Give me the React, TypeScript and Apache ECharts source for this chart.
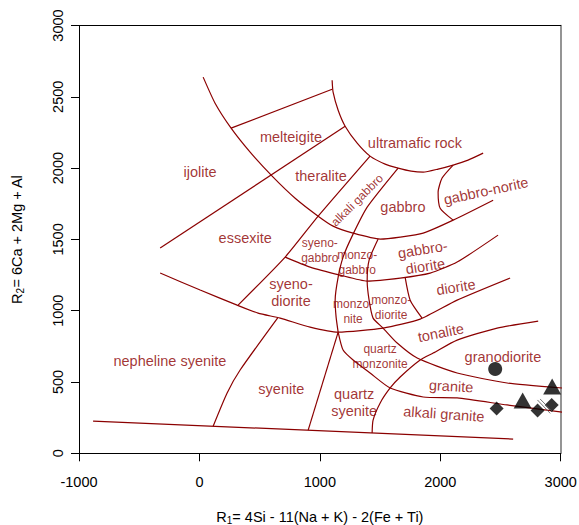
import React, { useEffect, useRef } from "react";
import * as echarts from "echarts";

// R1–R2 multicationic classification fields (R1 = 4Si - 11(Na+K) - 2(Fe+Ti), R2 = 6Ca + 2Mg + Al)

// Field boundaries as [R1, R2] vertices
const outerArc = [[31, 2638], [130, 2455], [263, 2280], [421, 2112], [612, 1937], [795, 1789], [986, 1663], [1110, 1593], [1276, 1544], [1501, 1502], [1667, 1516], [1858, 1544], [2107, 1635], [2439, 1775]];
const ultramaficArc = [[1102, 2616], [1110, 2532], [1152, 2406], [1210, 2294], [1310, 2175], [1417, 2084], [1542, 2028], [1650, 2000], [1758, 1979], [1858, 1972], [1982, 1993], [2107, 2021], [2231, 2056], [2356, 2105]];
const melteigiteTop = [[263, 2280], [1102, 2553]];
const essexiteTop = [[-326, 1439], [1210, 2294]];
const alkaliGabbroLeft = [[1417, 2084], [986, 1663], [712, 1376], [321, 1039]];
const alkaliGabbroRight = [[1650, 2000], [1393, 1726], [1268, 1523], [1193, 1376], [1152, 1236], [1127, 1074], [1135, 955], [1152, 850]];
const quartzSyeniteLeft = [[1152, 850], [903, 163]];
const syenoGabbroBottom = [[712, 1376], [919, 1306], [1168, 1250], [1393, 1208], [1667, 1229], [1916, 1264], [2140, 1341], [2480, 1530]];
const syenoDioriteBottom = [[-326, 1264], [6, 1145], [313, 1039], [487, 983], [670, 948], [919, 885], [1152, 850], [1525, 878], [1833, 941], [2140, 1074], [2580, 1229]];
const dioriteLeft = [[1708, 1236], [1750, 1074], [1849, 948]];
const gabbroNoriteLeft = [[2107, 2021], [2015, 1930], [1982, 1831], [1999, 1719], [2107, 1635]];
const monzodioriteLeft = [[1484, 1502], [1409, 1355], [1393, 1208], [1409, 1074], [1442, 948], [1525, 878], [1642, 773], [1808, 668], [2140, 563], [2555, 493], [3012, 458]];
const granodioriteTop = [[2813, 927], [2472, 878], [2140, 794], [1941, 703], [1833, 654], [1667, 535], [1584, 458], [1501, 353], [1442, 233], [1434, 142]];
const graniteBottom = [[1152, 850], [1193, 724], [1276, 654], [1417, 563], [1584, 458], [1858, 395], [2140, 388], [2555, 339], [3012, 289]];
const syeniteLeft = [[114, 190], [230, 423], [338, 584], [650, 950]];
const baseLine = [[-883, 226], [2605, 100]];

const boundaries = [
  outerArc, ultramaficArc, melteigiteTop, essexiteTop, alkaliGabbroLeft, alkaliGabbroRight,
  quartzSyeniteLeft, syenoGabbroBottom, syenoDioriteBottom, dioriteLeft, gabbroNoriteLeft,
  monzodioriteLeft, granodioriteTop, graniteBottom, syeniteLeft, baseLine,
];

// Field names and their anchor points
const regionLabels = [
  "melteigite", "ultramafic rock", "ijolite", "theralite", "alkali gabbro", "gabbro",
  "gabbro-norite", "essexite", "syeno-\ngabbro", "monzo-\ngabbro", "gabbro-\ndiorite",
  "syeno-\ndiorite", "monzo-\nnite", "monzo-\ndiorite", "diorite", "tonalite",
  "granodiorite", "quartz\nmonzonite", "granite", "alkali granite", "quartz\nsyenite",
  "syenite", "nepheline syenite",
];
const regionX = [760, 1790, 5, 1010, 1310, 1690, 2380, 380, 1000, 1310, 1865, 760, 1276, 1592, 2130, 2005, 2520, 1500, 2090, 2030, 1285, 680, -245];
const regionY = [2215, 2175, 1970, 1945, 1775, 1725, 1840, 1510, 1425, 1340, 1370, 1125, 997, 1025, 1165, 845, 675, 680, 470, 275, 355, 450, 645];

// Samples
const sampleCircle = [[2456, 591]];
const sampleTriangles = [[2929, 468], [2684, 370]];
const sampleDiamonds = [[2468, 314], [2808, 300], [2925, 339]];
const overlapMarkA = [[2807, 374], [2913, 280]];
const overlapMarkB = [[2829, 381], [2934, 290]];

const FONT = "'Liberation Sans', Arial, Helvetica, sans-serif";
const FIELD_RED = "#8b0000";

const smallLabels = new Set(["alkali gabbro", "syeno-\ngabbro", "monzo-\ngabbro", "monzo-\nnite", "monzo-\ndiorite", "quartz\nmonzonite"]);
const labelTilt: Record<string, number> = {
  "alkali gabbro": 45,
  "gabbro-norite": 12,
  "gabbro-\ndiorite": 9,
  "diorite": 9,
  "tonalite": 11,
  "granite": -3,
  "alkali granite": -4,
};

const plainNumber = (v: number) => String(v);

export default function App() {
  const ref = useRef<HTMLDivElement>(null);

  useEffect(() => {
    if (!ref.current) return;
    const chart = echarts.init(ref.current, undefined, { renderer: "svg" });

    const boundarySeries = boundaries.map((pts) => ({
      type: "line",
      data: pts,
      showSymbol: false,
      symbol: "none",
      smooth: pts.length > 2 ? 0.2 : false,
      lineStyle: { color: FIELD_RED, width: 1.2 },
      silent: true,
      z: 2,
    }));

    const labelData = regionLabels.map((name, i) => {
      const small = smallLabels.has(name);
      return {
        name,
        value: [regionX[i], regionY[i]],
        label: {
          rotate: labelTilt[name] ?? 0,
          fontSize: small ? 12 : 14.5,
          lineHeight: small ? 15 : 17,
        },
      };
    });

    // Axis titles: "R" with a lowered, smaller index digit
    const axisNameRich = {
      r: { fontSize: 14.5, fontFamily: FONT, color: "#000", lineHeight: 16 },
      s: { fontSize: 10, fontFamily: FONT, color: "#000", lineHeight: 11, verticalAlign: "bottom" },
    };

    const option = {
      animation: false,
      grid: { left: 79, right: 18.3, top: 25.5, bottom: 71.7, outerBoundsMode: "none" },
      xAxis: [
        {
          type: "value",
          min: -1000,
          max: 3000,
          interval: 1000,
          position: "bottom",
          axisLine: { show: true, onZero: false, lineStyle: { color: "#000", width: 1 } },
          axisTick: { show: true, inside: false, length: 8, lineStyle: { color: "#000" } },
          axisLabel: { fontSize: 14.5, color: "#000", margin: 21, fontFamily: FONT, formatter: plainNumber },
          splitLine: { show: false },
          name: "{r|R}{s|1}{r|= 4Si - 11(Na + K) - 2(Fe + Ti)}",
          nameLocation: "middle",
          nameGap: 56,
          nameTextStyle: { rich: axisNameRich },
        },
        {
          type: "value",
          min: -1000,
          max: 3000,
          position: "top",
          axisLine: { show: true, onZero: false, lineStyle: { color: "#000", width: 1 } },
          axisTick: { show: false },
          axisLabel: { show: false },
          splitLine: { show: false },
        },
      ],
      yAxis: [
        {
          type: "value",
          min: 0,
          max: 3000,
          interval: 500,
          position: "left",
          axisLine: { show: true, onZero: false, lineStyle: { color: "#000", width: 1 } },
          axisTick: { show: true, inside: false, length: 8, lineStyle: { color: "#000" } },
          axisLabel: { fontSize: 14.5, color: "#000", margin: 14, rotate: 90, fontFamily: FONT, formatter: plainNumber },
          splitLine: { show: false },
          name: "{r|R}{s|2}{r|= 6Ca + 2Mg + Al}",
          nameLocation: "middle",
          nameGap: 54,
          nameTextStyle: { rich: axisNameRich },
        },
        {
          type: "value",
          min: 0,
          max: 3000,
          position: "right",
          axisLine: { show: true, onZero: false, lineStyle: { color: "#7a7a7a", width: 1.6 } },
          axisTick: { show: false },
          axisLabel: { show: false },
          splitLine: { show: false },
        },
      ],
      series: [
        ...boundarySeries,
        {
          type: "scatter",
          data: labelData,
          symbolSize: 0,
          silent: true,
          z: 3,
          label: {
            show: true,
            position: "inside",
            formatter: "{b}",
            color: FIELD_RED,
            fontFamily: FONT,
            align: "center",
            verticalAlign: "middle",
          },
        },
        {
          type: "scatter",
          data: sampleCircle,
          symbol: "circle",
          symbolSize: 14,
          itemStyle: { color: "#000" },
          z: 5,
        },
        {
          type: "scatter",
          data: sampleTriangles,
          symbol: "triangle",
          symbolSize: [18, 16],
          itemStyle: { color: "#000" },
          z: 5,
        },
        {
          type: "scatter",
          data: sampleDiamonds,
          symbol: "diamond",
          symbolSize: 14,
          itemStyle: { color: "#000" },
          z: 5,
        },
        ...[overlapMarkA, overlapMarkB].map((pts) => ({
          type: "line",
          data: pts,
          symbol: "none",
          lineStyle: { color: "#555", width: 0.8 },
          silent: true,
          z: 6,
        })),
      ],
    };

    chart.setOption(option as any);
    return () => chart.dispose();
  }, []);

  return (
    <div
      ref={ref}
      style={{ position: "absolute", left: 0, top: 0, width: 579, height: 525, background: "#fff" }}
    />
  );
}
